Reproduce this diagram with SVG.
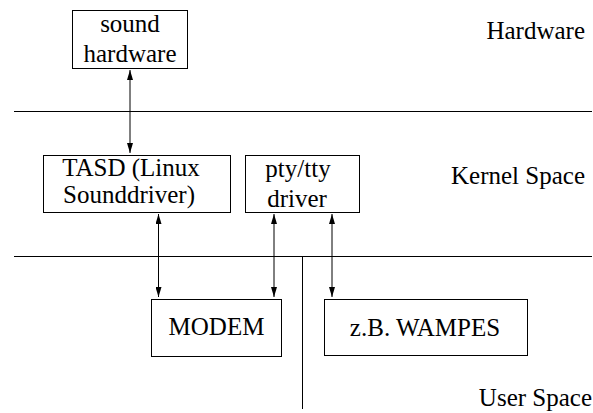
<svg xmlns="http://www.w3.org/2000/svg" width="593" height="413" viewBox="0 0 593 413">
<style>
text{font-family:"Liberation Serif","Times New Roman",serif;font-size:25px;fill:#000}
.c{text-anchor:middle}
.r{text-anchor:end}
rect{fill:#fff;stroke:#000;stroke-width:1}
line{stroke:#000;stroke-width:1}
.a{marker-start:url(#ah);marker-end:url(#ah)}
</style>
<defs>
<marker id="ah" markerWidth="10" markerHeight="6" refX="10" refY="3" orient="auto-start-reverse" markerUnits="userSpaceOnUse">
<path d="M0,0 L10,3 L0,6 Z" fill="#000"/>
</marker>
</defs>
<g id="layers">
<line x1="14" y1="111.5" x2="592" y2="111.5"/>
<line x1="14" y1="256.5" x2="592" y2="256.5"/>
<line x1="302.5" y1="256.5" x2="302.5" y2="409"/>
<text class="r" x="585" y="39">Hardware</text>
<text class="r" x="585" y="184">Kernel Space</text>
<text class="r" x="592" y="406">User Space</text>
</g>
<g id="connectors">
<line class="a" x1="130" y1="70" x2="130" y2="153"/>
<line class="a" x1="158.5" y1="214" x2="158.5" y2="297"/>
<line class="a" x1="274" y1="214" x2="274" y2="297"/>
<line class="a" x1="332" y1="214" x2="332" y2="297"/>
</g>
<g id="sound">
<rect x="72.5" y="10.5" width="115" height="58"/>
<text class="c" x="130" y="32">sound</text>
<text class="c" x="130" y="62">hardware</text>
</g>
<g id="tasd">
<rect x="43.5" y="155.5" width="187" height="57"/>
<text class="c" x="131" y="176">TASD (Linux</text>
<text class="c" x="129" y="203">Sounddriver)</text>
</g>
<g id="pty">
<rect x="245.5" y="155.5" width="114" height="57"/>
<text class="c" x="298" y="177">pty/tty</text>
<text class="c" x="297" y="207">driver</text>
</g>
<g id="modem">
<rect x="151.5" y="299.5" width="130" height="57"/>
<text class="c" x="216.5" y="335">MODEM</text>
</g>
<g id="wampes">
<rect x="324.5" y="299.5" width="203" height="56"/>
<text class="c" x="425" y="336">z.B. WAMPES</text>
</g>
</svg>
